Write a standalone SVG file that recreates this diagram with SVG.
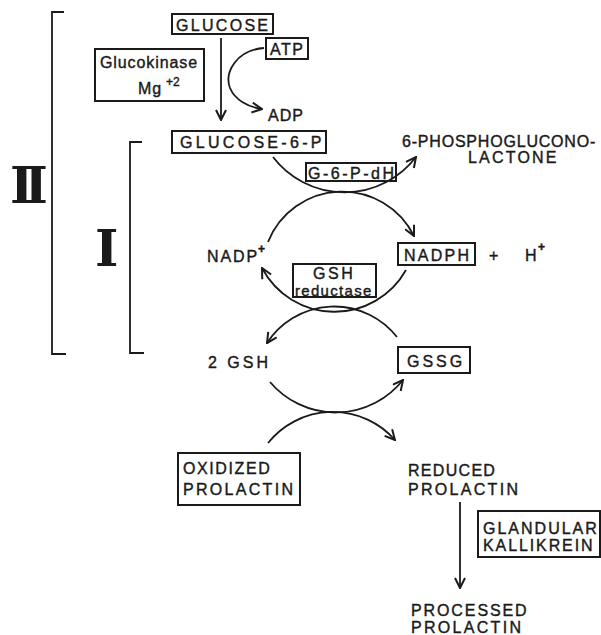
<svg xmlns="http://www.w3.org/2000/svg" width="601" height="635" viewBox="0 0 601 635">
<defs>
<style>
.t{font-family:"Liberation Sans",Arial,sans-serif;font-size:16px;fill:#1a1a1a;stroke:#1a1a1a;stroke-width:0.4}
.s{font-size:12px}
.box{fill:none;stroke:#1a1a1a;stroke-width:2}
.ln{fill:none;stroke:#1a1a1a;stroke-width:1.8}
.rom{font-family:"DejaVu Serif","Liberation Serif",serif;font-weight:bold;fill:#1a1a1a}
</style>
<marker id="ah" viewBox="0 0 12 12" refX="11" refY="6" markerWidth="12" markerHeight="12" markerUnits="userSpaceOnUse" orient="auto">
<path d="M1,1 L11,6 L1,11" fill="none" stroke="#1a1a1a" stroke-width="2"/>
</marker>
</defs>
<rect width="601" height="635" fill="#ffffff"/>

<g id="brackets">
<path class="ln" d="M64,12 H52 V354 H66" stroke-width="2"/>
<path class="ln" d="M142,142 H130 V353 H144" stroke-width="2"/>
<text class="rom" x="10" y="203" font-size="50" style="letter-spacing:-9px">II</text>
<text class="rom" x="95" y="266" font-size="50">I</text>
</g>

<g id="connectors">
<line class="ln" x1="221" y1="38" x2="221" y2="120" marker-end="url(#ah)"/>
<path class="ln" d="M264,48 C237,50 224,72 230,88 C235,100 248,107 262,109" marker-end="url(#ah)"/>
<path class="ln" d="M273,157 A90,90 0 0 0 416,157" marker-end="url(#ah)"/>
<path class="ln" d="M268,242 A80,80 0 0 1 414,236" marker-end="url(#ah)"/>
<path class="ln" d="M406,270 A82,82 0 0 1 262,268" marker-end="url(#ah)"/>
<path class="ln" d="M397,337 A80,80 0 0 0 267,343" marker-end="url(#ah)"/>
<path class="ln" d="M270,382 A86,86 0 0 0 403,380" marker-end="url(#ah)"/>
<path class="ln" d="M268,443 A83,83 0 0 1 395,440" marker-end="url(#ah)"/>
<line class="ln" x1="460" y1="502" x2="460" y2="588" marker-end="url(#ah)"/>
</g>

<g id="glucose">
<rect class="box" x="172" y="14" width="101" height="20"/>
<text class="t" x="176" y="31" style="letter-spacing:2.3px">GLUCOSE</text>
</g>

<g id="glucokinase">
<rect class="box" x="95" y="49" width="109" height="52"/>
<text class="t" x="100" y="68" style="letter-spacing:0.9px">Glucokinase</text>
<text class="t" x="138" y="94" style="letter-spacing:1px">Mg</text>
<text class="t s" x="166" y="86">+2</text>
</g>

<g id="atp">
<rect class="box" x="266" y="38" width="42" height="21"/>
<text class="t" x="270" y="55" style="letter-spacing:1.5px">ATP</text>
</g>

<g id="adp">
<text class="t" x="268" y="121" style="letter-spacing:1px">ADP</text>
</g>

<g id="g6p">
<rect class="box" x="172" y="131" width="154" height="22"/>
<text class="t" x="180" y="148" style="letter-spacing:3.3px">GLUCOSE-6-P</text>
</g>

<g id="lactone">
<text class="t" x="402" y="147" style="letter-spacing:0.8px">6-PHOSPHOGLUCONO-</text>
<text class="t" x="468" y="163" style="letter-spacing:2.2px">LACTONE</text>
</g>

<g id="g6pdh">
<rect class="box" x="306" y="163" width="90" height="18"/>
<text class="t" x="308" y="179" style="letter-spacing:2.5px">G-6-P-dH</text>
</g>

<g id="nadp">
<text class="t" x="207" y="262" style="letter-spacing:1.9px">NADP</text>
<text class="t s" x="258" y="253" font-weight="bold">+</text>
</g>

<g id="nadph">
<rect class="box" x="398" y="243" width="77" height="22"/>
<text class="t" x="404" y="261" style="letter-spacing:2.25px">NADPH</text>
<text class="t" x="489" y="261">+</text>
<text class="t" x="525" y="261">H</text>
<text class="t s" x="538" y="251" font-weight="bold">+</text>
</g>

<g id="gshreductase">
<rect class="box" x="293" y="264" width="83" height="33"/>
<text class="t" x="313" y="279" style="letter-spacing:2.6px">GSH</text>
<text class="t" x="295" y="295.5" style="letter-spacing:1.3px;font-size:15px">reductase</text>
</g>

<g id="gsh">
<text class="t" x="208" y="368" style="letter-spacing:3px">2 GSH</text>
</g>

<g id="gssg">
<rect class="box" x="398" y="347" width="72" height="26"/>
<text class="t" x="407" y="367" style="letter-spacing:3px">GSSG</text>
</g>

<g id="oxidized">
<rect class="box" x="178" y="453" width="122" height="52"/>
<text class="t" x="183" y="474" style="letter-spacing:1.6px">OXIDIZED</text>
<text class="t" x="183" y="495" style="letter-spacing:2.3px">PROLACTIN</text>
</g>

<g id="reduced">
<text class="t" x="408" y="476" style="letter-spacing:1.3px">REDUCED</text>
<text class="t" x="408" y="495" style="letter-spacing:2.3px">PROLACTIN</text>
</g>

<g id="kallikrein">
<rect class="box" x="478" y="511" width="122" height="46"/>
<text class="t" x="483" y="534" style="letter-spacing:2px">GLANDULAR</text>
<text class="t" x="483" y="551" style="letter-spacing:1.9px">KALLIKREIN</text>
</g>

<g id="processed">
<text class="t" x="411" y="616" style="letter-spacing:1.9px">PROCESSED</text>
<text class="t" x="411" y="633" style="letter-spacing:2.3px">PROLACTIN</text>
</g>
</svg>
